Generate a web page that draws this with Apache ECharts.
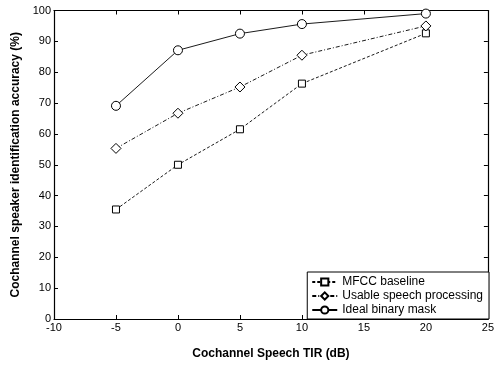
<!DOCTYPE html>
<html><head><meta charset="utf-8">
<script src="https://cdn.jsdelivr.net/npm/echarts@6/dist/echarts.min.js"></script>
<style>html,body{margin:0;padding:0;background:#fff}#c{width:497px;height:365px}</style>
</head><body><div id="c"></div>
<script>
var xValues = [-5, 0, 5, 10, 20];
var mfcc = [35.5, 50, 61.5, 76.3, 92.6];
var usable = [55.3, 66.7, 75.2, 85.5, 95.0];
var ideal = [69.1, 87.1, 92.5, 95.6, 99.0];
var seriesNames = ['MFCC baseline', 'Usable speech processing', 'Ideal binary mask'];
var xTitle = 'Cochannel Speech TIR (dB)';
var yTitle = 'Cochannel speaker identification accuracy (%)';

function pts(v){ return xValues.map(function(x,i){return [x, v[i]];}); }
var font = 'Liberation Sans, Arial, sans-serif';
var chart = echarts.init(document.getElementById('c'));
var axBase = {
  axisLine:{show:true,onZero:false,lineStyle:{color:'#000',width:1.2}},
  axisTick:{show:true,inside:true,length:4,lineStyle:{color:'#000',width:1}},
  splitLine:{show:false}
};
function mk(name, data, size, sym, dash){
  return {name:name,type:'line',data:pts(data),symbol:sym,symbolSize:size,
    itemStyle:{color:'#fff',borderColor:'#000',borderWidth:1},
    lineStyle:{color:'#000',width:0.9,type:dash},
    emphasis:{disabled:true},animation:false};
}
chart.setOption({
  animation:false,
  grid:{left:54,top:10.5,width:438.5,height:314.5,containLabel:false},
  xAxis:[
    Object.assign({type:'value',min:-10,max:25,interval:5,position:'bottom',
      name:xTitle,nameLocation:'middle',nameGap:29,
      nameTextStyle:{fontFamily:font,fontSize:12,fontWeight:'bold',color:'#000'},
      axisLabel:{fontFamily:font,fontSize:11,color:'#000',margin:3}},axBase),
    Object.assign({type:'value',min:-10,max:25,interval:5,position:'top',
      axisLabel:{show:false}},axBase)
  ],
  yAxis:[
    Object.assign({type:'value',min:0,max:100,interval:10,position:'left',
      name:yTitle,nameLocation:'middle',nameGap:32,
      nameTextStyle:{fontFamily:font,fontSize:12,fontWeight:'bold',color:'#000'},
      axisLabel:{fontFamily:font,fontSize:11,color:'#000',margin:3}},axBase),
    Object.assign({type:'value',min:0,max:100,interval:10,position:'right',
      axisLabel:{show:false}},axBase)
  ],
  legend:{
    orient:'vertical',right:8,bottom:46,
    backgroundColor:'#fff',borderColor:'#000',borderWidth:1,borderRadius:0,
    padding:[4,6,3,4],itemGap:2,itemWidth:25,itemHeight:9,
    textStyle:{fontFamily:font,fontSize:12,color:'#000'},
    data:seriesNames
  },
  series:[
    mk(seriesNames[0], mfcc, 7, 'rect', [3,2]),
    mk(seriesNames[1], usable, 10, 'diamond', [4,2,1,2]),
    mk(seriesNames[2], ideal, 9, 'circle', 'solid')
  ]
});
</script></body></html>
